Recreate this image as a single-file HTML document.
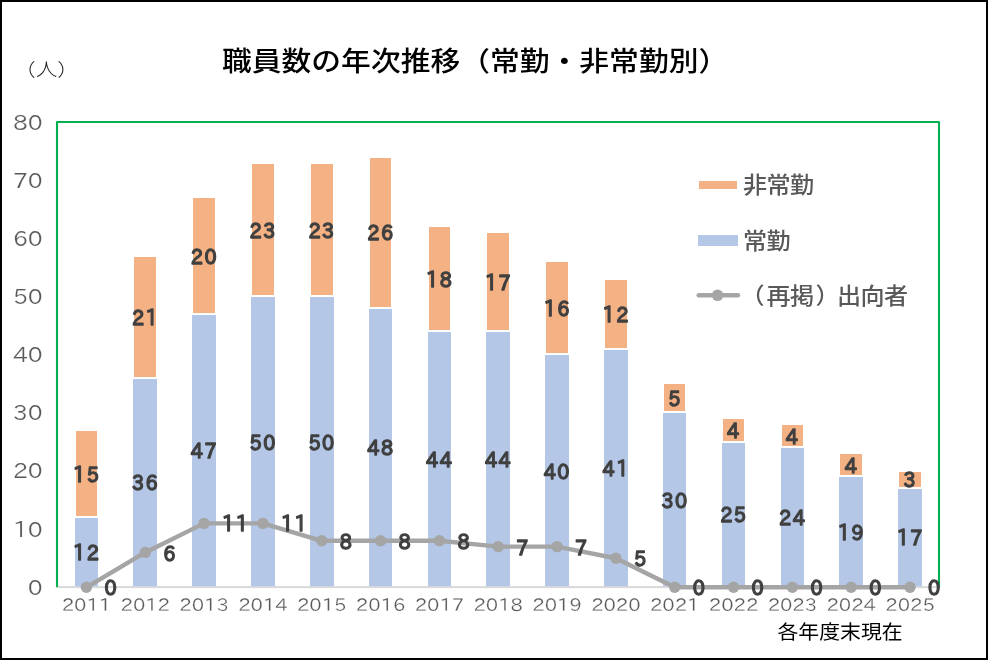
<!DOCTYPE html>
<html lang="ja"><head><meta charset="utf-8"><title>職員数の年次推移</title>
<style>
html,body{margin:0;padding:0;background:#fff;}
body{width:988px;height:660px;overflow:hidden;position:relative;}
svg{display:block;position:absolute;left:0;top:0;}
.jp{font-family:"Liberation Sans","Noto Sans CJK JP",sans-serif;}
.num{font-family:"IPAPGothic","IPAGothic","Liberation Sans",sans-serif;}
.ax{fill:#595959;stroke:#fff;stroke-width:0.2px;paint-order:fill stroke;}
.lab{fill:#404040;font-weight:400;stroke:#404040;stroke-width:1.45px;stroke-linejoin:round;}
</style></head><body>
<svg width="988" height="660" viewBox="0 0 988 660">
<rect x="0" y="0" width="988" height="660" fill="#fff"/>
<rect x="0" y="0" width="988" height="2" fill="#000"/>
<rect x="0" y="0" width="2" height="660" fill="#000"/>
<rect x="986" y="0" width="2" height="660" fill="#000"/>
<rect x="0" y="658" width="988" height="2" fill="#000"/>
<polyline points="57.0,587.3 57.0,122.0 939.0,122.0 939.0,587.3" fill="none" stroke="#00b050" stroke-width="2.1" stroke-linejoin="round"/>
<rect x="58.1" y="586.1" width="879.8" height="2" fill="#d9d9d9"/>
<rect x="75" y="518" width="23" height="68.2" fill="#b4c7e7"/>
<rect x="76" y="431" width="21" height="85" fill="#f4b183"/>
<rect x="133" y="379" width="24" height="207.2" fill="#b4c7e7"/>
<rect x="134" y="257" width="22" height="120" fill="#f4b183"/>
<rect x="192" y="315" width="24" height="271.2" fill="#b4c7e7"/>
<rect x="193" y="198" width="22" height="115" fill="#f4b183"/>
<rect x="251" y="297" width="24" height="289.2" fill="#b4c7e7"/>
<rect x="252" y="164" width="22" height="131" fill="#f4b183"/>
<rect x="310" y="297" width="24" height="289.2" fill="#b4c7e7"/>
<rect x="311" y="164" width="22" height="131" fill="#f4b183"/>
<rect x="369" y="309" width="23" height="277.2" fill="#b4c7e7"/>
<rect x="370" y="158" width="21" height="149" fill="#f4b183"/>
<rect x="428" y="332" width="23" height="254.2" fill="#b4c7e7"/>
<rect x="429" y="227" width="21" height="103" fill="#f4b183"/>
<rect x="486" y="332" width="24" height="254.2" fill="#b4c7e7"/>
<rect x="487" y="233" width="22" height="97" fill="#f4b183"/>
<rect x="545" y="355" width="24" height="231.2" fill="#b4c7e7"/>
<rect x="546" y="262" width="22" height="91" fill="#f4b183"/>
<rect x="604" y="350" width="24" height="236.2" fill="#b4c7e7"/>
<rect x="605" y="280" width="22" height="68" fill="#f4b183"/>
<rect x="663" y="413" width="23" height="173.2" fill="#b4c7e7"/>
<rect x="664" y="384" width="21" height="27" fill="#f4b183"/>
<rect x="722" y="443" width="23" height="143.2" fill="#b4c7e7"/>
<rect x="723" y="419" width="21" height="22" fill="#f4b183"/>
<rect x="781" y="448" width="23" height="138.2" fill="#b4c7e7"/>
<rect x="782" y="425" width="21" height="21" fill="#f4b183"/>
<rect x="839" y="477" width="24" height="109.2" fill="#b4c7e7"/>
<rect x="840" y="454" width="22" height="21" fill="#f4b183"/>
<rect x="898" y="489" width="24" height="97.2" fill="#b4c7e7"/>
<rect x="899" y="472" width="22" height="15" fill="#f4b183"/>
<polyline points="86.41,587.30 145.25,552.42 204.07,523.36 262.90,523.36 321.74,540.80 380.56,540.80 439.39,540.80 498.22,546.61 557.06,546.61 615.88,558.24 674.72,587.30 733.54,587.30 792.38,587.30 851.20,587.30 910.03,587.30" fill="none" stroke="#a5a5a5" stroke-width="4.4" stroke-linejoin="round" stroke-linecap="round"/>
<circle cx="86.41" cy="587.30" r="5.7" fill="#a5a5a5"/>
<circle cx="145.25" cy="552.42" r="5.7" fill="#a5a5a5"/>
<circle cx="204.07" cy="523.36" r="5.7" fill="#a5a5a5"/>
<circle cx="262.90" cy="523.36" r="5.7" fill="#a5a5a5"/>
<circle cx="321.74" cy="540.80" r="5.7" fill="#a5a5a5"/>
<circle cx="380.56" cy="540.80" r="5.7" fill="#a5a5a5"/>
<circle cx="439.39" cy="540.80" r="5.7" fill="#a5a5a5"/>
<circle cx="498.22" cy="546.61" r="5.7" fill="#a5a5a5"/>
<circle cx="557.06" cy="546.61" r="5.7" fill="#a5a5a5"/>
<circle cx="615.88" cy="558.24" r="5.7" fill="#a5a5a5"/>
<circle cx="674.72" cy="587.30" r="5.7" fill="#a5a5a5"/>
<circle cx="733.54" cy="587.30" r="5.7" fill="#a5a5a5"/>
<circle cx="792.38" cy="587.30" r="5.7" fill="#a5a5a5"/>
<circle cx="851.20" cy="587.30" r="5.7" fill="#a5a5a5"/>
<circle cx="910.03" cy="587.30" r="5.7" fill="#a5a5a5"/>
<text class="num ax" transform="translate(42.7,594.70) scale(1.13,1)" font-size="20.9" text-anchor="end" textLength="13.16" lengthAdjust="spacingAndGlyphs">0</text>
<text class="num ax" transform="translate(42.7,536.58) scale(1.13,1)" font-size="20.9" text-anchor="end" textLength="26.33" lengthAdjust="spacingAndGlyphs">10</text>
<text class="num ax" transform="translate(42.7,478.45) scale(1.13,1)" font-size="20.9" text-anchor="end" textLength="26.33" lengthAdjust="spacingAndGlyphs">20</text>
<text class="num ax" transform="translate(42.7,420.32) scale(1.13,1)" font-size="20.9" text-anchor="end" textLength="26.33" lengthAdjust="spacingAndGlyphs">30</text>
<text class="num ax" transform="translate(42.7,362.20) scale(1.13,1)" font-size="20.9" text-anchor="end" textLength="26.33" lengthAdjust="spacingAndGlyphs">40</text>
<text class="num ax" transform="translate(42.7,304.07) scale(1.13,1)" font-size="20.9" text-anchor="end" textLength="26.33" lengthAdjust="spacingAndGlyphs">50</text>
<text class="num ax" transform="translate(42.7,245.95) scale(1.13,1)" font-size="20.9" text-anchor="end" textLength="26.33" lengthAdjust="spacingAndGlyphs">60</text>
<text class="num ax" transform="translate(42.7,187.82) scale(1.13,1)" font-size="20.9" text-anchor="end" textLength="26.33" lengthAdjust="spacingAndGlyphs">70</text>
<text class="num ax" transform="translate(42.7,129.70) scale(1.13,1)" font-size="20.9" text-anchor="end" textLength="26.33" lengthAdjust="spacingAndGlyphs">80</text>
<text class="num ax" transform="translate(86.41,611.0) scale(1.135,1)" font-size="17.3" text-anchor="middle" textLength="43.59" lengthAdjust="spacingAndGlyphs">2011</text>
<text class="num ax" transform="translate(145.25,611.0) scale(1.135,1)" font-size="17.3" text-anchor="middle" textLength="43.59" lengthAdjust="spacingAndGlyphs">2012</text>
<text class="num ax" transform="translate(204.07,611.0) scale(1.135,1)" font-size="17.3" text-anchor="middle" textLength="43.59" lengthAdjust="spacingAndGlyphs">2013</text>
<text class="num ax" transform="translate(262.90,611.0) scale(1.135,1)" font-size="17.3" text-anchor="middle" textLength="43.59" lengthAdjust="spacingAndGlyphs">2014</text>
<text class="num ax" transform="translate(321.74,611.0) scale(1.135,1)" font-size="17.3" text-anchor="middle" textLength="43.59" lengthAdjust="spacingAndGlyphs">2015</text>
<text class="num ax" transform="translate(380.56,611.0) scale(1.135,1)" font-size="17.3" text-anchor="middle" textLength="43.59" lengthAdjust="spacingAndGlyphs">2016</text>
<text class="num ax" transform="translate(439.39,611.0) scale(1.135,1)" font-size="17.3" text-anchor="middle" textLength="43.59" lengthAdjust="spacingAndGlyphs">2017</text>
<text class="num ax" transform="translate(498.22,611.0) scale(1.135,1)" font-size="17.3" text-anchor="middle" textLength="43.59" lengthAdjust="spacingAndGlyphs">2018</text>
<text class="num ax" transform="translate(557.06,611.0) scale(1.135,1)" font-size="17.3" text-anchor="middle" textLength="43.59" lengthAdjust="spacingAndGlyphs">2019</text>
<text class="num ax" transform="translate(615.88,611.0) scale(1.135,1)" font-size="17.3" text-anchor="middle" textLength="43.59" lengthAdjust="spacingAndGlyphs">2020</text>
<text class="num ax" transform="translate(674.72,611.0) scale(1.135,1)" font-size="17.3" text-anchor="middle" textLength="43.59" lengthAdjust="spacingAndGlyphs">2021</text>
<text class="num ax" transform="translate(733.54,611.0) scale(1.135,1)" font-size="17.3" text-anchor="middle" textLength="43.59" lengthAdjust="spacingAndGlyphs">2022</text>
<text class="num ax" transform="translate(792.38,611.0) scale(1.135,1)" font-size="17.3" text-anchor="middle" textLength="43.59" lengthAdjust="spacingAndGlyphs">2023</text>
<text class="num ax" transform="translate(851.20,611.0) scale(1.135,1)" font-size="17.3" text-anchor="middle" textLength="43.59" lengthAdjust="spacingAndGlyphs">2024</text>
<text class="num ax" transform="translate(910.03,611.0) scale(1.135,1)" font-size="17.3" text-anchor="middle" textLength="43.59" lengthAdjust="spacingAndGlyphs">2025</text>
<text class="num lab" transform="translate(86.71,559.98) scale(0.92,1)" font-size="21.0" letter-spacing="1.6" text-anchor="middle" textLength="29.65" lengthAdjust="spacingAndGlyphs">12</text>
<text class="num lab" transform="translate(86.71,481.66) scale(0.92,1)" font-size="21.0" letter-spacing="1.6" text-anchor="middle" textLength="29.65" lengthAdjust="spacingAndGlyphs">15</text>
<text class="num lab" transform="translate(104.41,595.40) scale(0.92,1)" font-size="21.0" letter-spacing="1.6" text-anchor="start" textLength="14.83" lengthAdjust="spacingAndGlyphs">0</text>
<text class="num lab" transform="translate(145.55,490.22) scale(0.92,1)" font-size="21.0" letter-spacing="1.6" text-anchor="middle" textLength="29.65" lengthAdjust="spacingAndGlyphs">36</text>
<text class="num lab" transform="translate(145.55,324.72) scale(0.92,1)" font-size="21.0" letter-spacing="1.6" text-anchor="middle" textLength="29.65" lengthAdjust="spacingAndGlyphs">21</text>
<text class="num lab" transform="translate(163.25,560.52) scale(0.92,1)" font-size="21.0" letter-spacing="1.6" text-anchor="start" textLength="14.83" lengthAdjust="spacingAndGlyphs">6</text>
<text class="num lab" transform="translate(204.38,458.26) scale(0.92,1)" font-size="21.0" letter-spacing="1.6" text-anchor="middle" textLength="29.65" lengthAdjust="spacingAndGlyphs">47</text>
<text class="num lab" transform="translate(204.38,263.69) scale(0.92,1)" font-size="21.0" letter-spacing="1.6" text-anchor="middle" textLength="29.65" lengthAdjust="spacingAndGlyphs">20</text>
<text class="num lab" transform="translate(222.07,531.46) scale(0.92,1)" font-size="21.0" letter-spacing="1.6" text-anchor="start" textLength="29.65" lengthAdjust="spacingAndGlyphs">11</text>
<text class="num lab" transform="translate(263.20,449.54) scale(0.92,1)" font-size="21.0" letter-spacing="1.6" text-anchor="middle" textLength="29.65" lengthAdjust="spacingAndGlyphs">50</text>
<text class="num lab" transform="translate(263.20,237.53) scale(0.92,1)" font-size="21.0" letter-spacing="1.6" text-anchor="middle" textLength="29.65" lengthAdjust="spacingAndGlyphs">23</text>
<text class="num lab" transform="translate(280.90,531.46) scale(0.92,1)" font-size="21.0" letter-spacing="1.6" text-anchor="start" textLength="29.65" lengthAdjust="spacingAndGlyphs">11</text>
<text class="num lab" transform="translate(322.04,449.54) scale(0.92,1)" font-size="21.0" letter-spacing="1.6" text-anchor="middle" textLength="29.65" lengthAdjust="spacingAndGlyphs">50</text>
<text class="num lab" transform="translate(322.04,237.53) scale(0.92,1)" font-size="21.0" letter-spacing="1.6" text-anchor="middle" textLength="29.65" lengthAdjust="spacingAndGlyphs">23</text>
<text class="num lab" transform="translate(339.74,548.90) scale(0.92,1)" font-size="21.0" letter-spacing="1.6" text-anchor="start" textLength="14.83" lengthAdjust="spacingAndGlyphs">8</text>
<text class="num lab" transform="translate(380.87,455.35) scale(0.92,1)" font-size="21.0" letter-spacing="1.6" text-anchor="middle" textLength="29.65" lengthAdjust="spacingAndGlyphs">48</text>
<text class="num lab" transform="translate(380.87,240.44) scale(0.92,1)" font-size="21.0" letter-spacing="1.6" text-anchor="middle" textLength="29.65" lengthAdjust="spacingAndGlyphs">26</text>
<text class="num lab" transform="translate(398.56,548.90) scale(0.92,1)" font-size="21.0" letter-spacing="1.6" text-anchor="start" textLength="14.83" lengthAdjust="spacingAndGlyphs">8</text>
<text class="num lab" transform="translate(439.69,466.97) scale(0.92,1)" font-size="21.0" letter-spacing="1.6" text-anchor="middle" textLength="29.65" lengthAdjust="spacingAndGlyphs">44</text>
<text class="num lab" transform="translate(439.69,286.94) scale(0.92,1)" font-size="21.0" letter-spacing="1.6" text-anchor="middle" textLength="29.65" lengthAdjust="spacingAndGlyphs">18</text>
<text class="num lab" transform="translate(457.39,548.90) scale(0.92,1)" font-size="21.0" letter-spacing="1.6" text-anchor="start" textLength="14.83" lengthAdjust="spacingAndGlyphs">8</text>
<text class="num lab" transform="translate(498.52,466.97) scale(0.92,1)" font-size="21.0" letter-spacing="1.6" text-anchor="middle" textLength="29.65" lengthAdjust="spacingAndGlyphs">44</text>
<text class="num lab" transform="translate(498.52,289.84) scale(0.92,1)" font-size="21.0" letter-spacing="1.6" text-anchor="middle" textLength="29.65" lengthAdjust="spacingAndGlyphs">17</text>
<text class="num lab" transform="translate(516.22,554.71) scale(0.92,1)" font-size="21.0" letter-spacing="1.6" text-anchor="start" textLength="14.83" lengthAdjust="spacingAndGlyphs">7</text>
<text class="num lab" transform="translate(557.36,478.60) scale(0.92,1)" font-size="21.0" letter-spacing="1.6" text-anchor="middle" textLength="29.65" lengthAdjust="spacingAndGlyphs">40</text>
<text class="num lab" transform="translate(557.36,316.00) scale(0.92,1)" font-size="21.0" letter-spacing="1.6" text-anchor="middle" textLength="29.65" lengthAdjust="spacingAndGlyphs">16</text>
<text class="num lab" transform="translate(575.06,554.71) scale(0.92,1)" font-size="21.0" letter-spacing="1.6" text-anchor="start" textLength="14.83" lengthAdjust="spacingAndGlyphs">7</text>
<text class="num lab" transform="translate(616.18,475.69) scale(0.92,1)" font-size="21.0" letter-spacing="1.6" text-anchor="middle" textLength="29.65" lengthAdjust="spacingAndGlyphs">41</text>
<text class="num lab" transform="translate(616.18,321.81) scale(0.92,1)" font-size="21.0" letter-spacing="1.6" text-anchor="middle" textLength="29.65" lengthAdjust="spacingAndGlyphs">12</text>
<text class="num lab" transform="translate(633.88,566.34) scale(0.92,1)" font-size="21.0" letter-spacing="1.6" text-anchor="start" textLength="14.83" lengthAdjust="spacingAndGlyphs">5</text>
<text class="num lab" transform="translate(675.01,507.66) scale(0.92,1)" font-size="21.0" letter-spacing="1.6" text-anchor="middle" textLength="29.65" lengthAdjust="spacingAndGlyphs">30</text>
<text class="num lab" transform="translate(675.01,406.09) scale(0.92,1)" font-size="21.0" letter-spacing="1.6" text-anchor="middle" textLength="14.83" lengthAdjust="spacingAndGlyphs">5</text>
<text class="num lab" transform="translate(692.72,595.40) scale(0.92,1)" font-size="21.0" letter-spacing="1.6" text-anchor="start" textLength="14.83" lengthAdjust="spacingAndGlyphs">0</text>
<text class="num lab" transform="translate(733.84,522.19) scale(0.92,1)" font-size="21.0" letter-spacing="1.6" text-anchor="middle" textLength="29.65" lengthAdjust="spacingAndGlyphs">25</text>
<text class="num lab" transform="translate(733.84,438.06) scale(0.92,1)" font-size="21.0" letter-spacing="1.6" text-anchor="middle" textLength="14.83" lengthAdjust="spacingAndGlyphs">4</text>
<text class="num lab" transform="translate(751.54,595.40) scale(0.92,1)" font-size="21.0" letter-spacing="1.6" text-anchor="start" textLength="14.83" lengthAdjust="spacingAndGlyphs">0</text>
<text class="num lab" transform="translate(792.67,525.10) scale(0.92,1)" font-size="21.0" letter-spacing="1.6" text-anchor="middle" textLength="29.65" lengthAdjust="spacingAndGlyphs">24</text>
<text class="num lab" transform="translate(792.67,443.87) scale(0.92,1)" font-size="21.0" letter-spacing="1.6" text-anchor="middle" textLength="14.83" lengthAdjust="spacingAndGlyphs">4</text>
<text class="num lab" transform="translate(810.38,595.40) scale(0.92,1)" font-size="21.0" letter-spacing="1.6" text-anchor="start" textLength="14.83" lengthAdjust="spacingAndGlyphs">0</text>
<text class="num lab" transform="translate(851.50,539.63) scale(0.92,1)" font-size="21.0" letter-spacing="1.6" text-anchor="middle" textLength="29.65" lengthAdjust="spacingAndGlyphs">19</text>
<text class="num lab" transform="translate(851.50,472.94) scale(0.92,1)" font-size="21.0" letter-spacing="1.6" text-anchor="middle" textLength="14.83" lengthAdjust="spacingAndGlyphs">4</text>
<text class="num lab" transform="translate(869.20,595.40) scale(0.92,1)" font-size="21.0" letter-spacing="1.6" text-anchor="start" textLength="14.83" lengthAdjust="spacingAndGlyphs">0</text>
<text class="num lab" transform="translate(910.33,545.44) scale(0.92,1)" font-size="21.0" letter-spacing="1.6" text-anchor="middle" textLength="29.65" lengthAdjust="spacingAndGlyphs">17</text>
<text class="num lab" transform="translate(910.33,487.47) scale(0.92,1)" font-size="21.0" letter-spacing="1.6" text-anchor="middle" textLength="14.83" lengthAdjust="spacingAndGlyphs">3</text>
<text class="num lab" transform="translate(928.03,595.40) scale(0.92,1)" font-size="21.0" letter-spacing="1.6" text-anchor="start" textLength="14.83" lengthAdjust="spacingAndGlyphs">0</text>
<text class="jp" transform="translate(222.0,70.8) scale(1.0,0.9)" font-size="29.8" fill="#000" font-weight="500">職員数の年次推移（常勤・非常勤別）</text>
<text class="jp" transform="translate(46.5,75.6) scale(1.11,0.92)" text-anchor="middle" font-size="19.5" fill="#222" font-weight="300">（人）</text>
<rect x="699" y="181" width="38" height="8" fill="#f4b183"/>
<rect x="698" y="235" width="40" height="11" fill="#b4c7e7"/>
<line x1="698.7" y1="295.3" x2="738" y2="295.3" stroke="#a5a5a5" stroke-width="4.4" stroke-linecap="round"/>
<circle cx="717.6" cy="295.3" r="5.8" fill="#a5a5a5"/>
<text class="jp" transform="translate(743,193) scale(1,0.94)" font-size="24.1" letter-spacing="-0.6" font-weight="500" fill="#595959">非常勤</text>
<text class="jp" transform="translate(743,248.6) scale(1,0.94)" font-size="24.1" letter-spacing="-0.6" font-weight="500" fill="#595959">常勤</text>
<text class="jp" transform="translate(743,304.4) scale(1,0.94)" font-size="24.1" letter-spacing="-0.6" font-weight="500" fill="#595959"><tspan dx="-2.5">（</tspan><tspan dx="2.5">再</tspan>掲<tspan dx="2">）</tspan><tspan dx="-2">出</tspan>向者</text>
<text class="jp" transform="translate(777.5,639) scale(1.013,0.96)" font-size="20.6" fill="#000">各年度末現在</text>
</svg>
</body></html>
